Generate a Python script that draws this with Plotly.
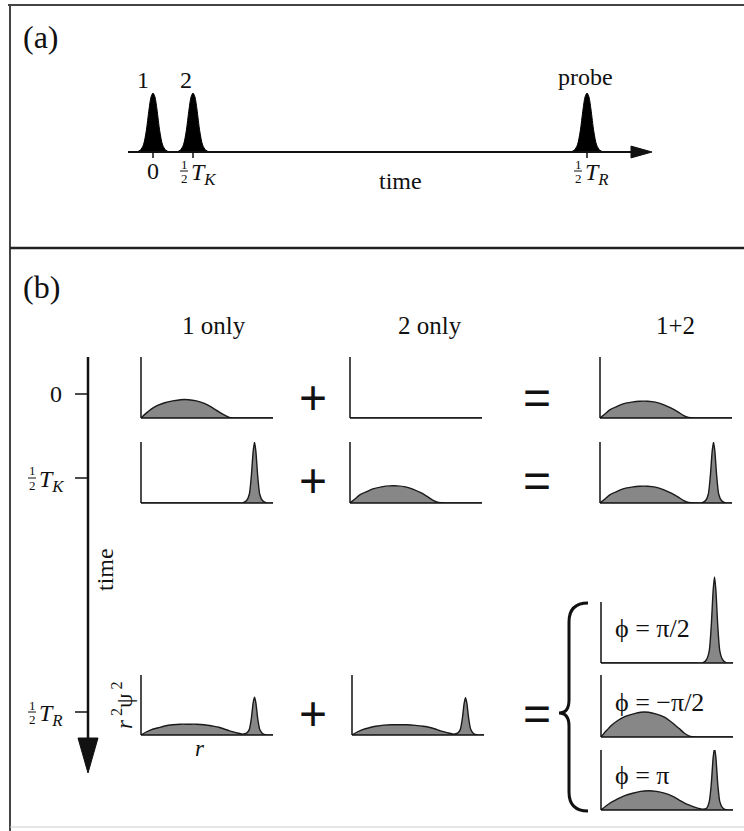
import plotly.graph_objects as go

W, H = 744, 831

# ---------------- data: panel (a) ----------------
pulse_dt = [-0.42, -0.32, -0.24, -0.17, -0.10, -0.05, 0.0, 0.05, 0.10, 0.17, 0.24, 0.32, 0.42]
pulse_h = [0.0, 0.03, 0.12, 0.35, 0.72, 0.93, 1.0, 0.93, 0.72, 0.35, 0.12, 0.03, 0.0]
pulse_centers = [0.0, 1.0, 10.85]          # 0, T_K/2, T_R/2 (in units of T_K/2)
pulse_labels = ["1", "2", "probe"]
time_ticks = [0.0, 1.0, 10.85]
time_tick_subs = [None, "K", "R"]          # None -> plain "0", else ½T_sub

# ---------------- data: panel (b) ----------------
column_titles = ["1 only", "2 only", "1+2"]
row_subs = [None, "K", "R"]
phase_labels = ["ϕ = π/2", "ϕ = −π/2", "ϕ = π"]

r_grid = [0.0, 0.04, 0.08, 0.13, 0.18, 0.24, 0.30, 0.36, 0.42, 0.48, 0.54, 0.59, 0.63, 0.67,
          0.72, 0.77, 0.80, 0.82, 0.835, 0.85, 0.86, 0.87, 0.885, 0.90, 0.92, 0.95, 1.0]

t0_one = [0, 0.08, 0.15, 0.21, 0.25, 0.28, 0.30, 0.30, 0.28, 0.24, 0.17, 0.10, 0.05, 0.01,
          0, 0, 0, 0, 0, 0, 0, 0, 0, 0, 0, 0, 0]
t0_two = [0] * 27
t0_sum = [0, 0.07, 0.14, 0.19, 0.235, 0.26, 0.275, 0.275, 0.26, 0.22, 0.16, 0.10, 0.045, 0.01,
          0, 0, 0, 0, 0, 0, 0, 0, 0, 0, 0, 0, 0]
tk_one = [0, 0, 0, 0, 0, 0, 0, 0, 0, 0, 0, 0, 0, 0,
          0, 0, 0.04, 0.14, 0.42, 0.85, 1.0, 0.85, 0.42, 0.14, 0.04, 0, 0]
tk_two = [0, 0.07, 0.14, 0.19, 0.235, 0.265, 0.28, 0.28, 0.265, 0.225, 0.165, 0.10, 0.045, 0.01,
          0, 0, 0, 0, 0, 0, 0, 0, 0, 0, 0, 0, 0]
tk_sum = [0, 0.07, 0.14, 0.19, 0.235, 0.26, 0.275, 0.275, 0.26, 0.22, 0.16, 0.10, 0.045, 0.01,
          0, 0, 0.04, 0.14, 0.42, 0.85, 1.0, 0.85, 0.42, 0.14, 0.04, 0, 0]
tr_one = [0, 0.05, 0.09, 0.12, 0.15, 0.17, 0.18, 0.18, 0.18, 0.17, 0.15, 0.13, 0.10, 0.07,
          0.04, 0.015, 0.03, 0.09, 0.26, 0.54, 0.63, 0.54, 0.26, 0.09, 0.025, 0, 0]
tr_two = [0, 0.05, 0.09, 0.12, 0.145, 0.165, 0.17, 0.17, 0.17, 0.16, 0.145, 0.125, 0.10, 0.07,
          0.04, 0.015, 0.03, 0.09, 0.26, 0.53, 0.62, 0.53, 0.26, 0.09, 0.025, 0, 0]
phi_a = [0, 0, 0, 0, 0, 0, 0, 0, 0, 0, 0, 0, 0, 0,
         0, 0, 0.06, 0.2, 0.6, 1.2, 1.41, 1.2, 0.6, 0.2, 0.06, 0, 0]
phi_b = [0, 0.10, 0.19, 0.27, 0.33, 0.37, 0.40, 0.40, 0.37, 0.32, 0.23, 0.14, 0.065, 0.015,
         0, 0, 0, 0, 0, 0, 0, 0, 0, 0, 0, 0, 0]
phi_c = [0, 0.07, 0.13, 0.19, 0.24, 0.28, 0.31, 0.32, 0.31, 0.28, 0.23, 0.17, 0.12, 0.08,
         0.04, 0.015, 0.03, 0.14, 0.42, 0.88, 1.03, 0.88, 0.42, 0.14, 0.04, 0, 0]

# ---------------- layout of the small plots (px: left, bottom, width, height, extra top) ----
small_plots = [
    (t0_one, 141, 418, 132, 61, 0),
    (t0_two, 350, 418, 132, 61, 0),
    (t0_sum, 600, 418, 132, 61, 0),
    (tk_one, 141, 503, 132, 61, 0),
    (tk_two, 350, 503, 132, 61, 0),
    (tk_sum, 600, 503, 132, 61, 0),
    (tr_one, 141, 735, 132, 60, 0),
    (tr_two, 352, 735, 132, 60, 0),
    (phi_a, 601, 663, 132, 61, 28),
    (phi_b, 601, 737, 132, 62, 0),
    (phi_c, 601, 810, 132, 60, 0),
]


def px(x):
    return x / W


def py(y):
    return 1 - y / H


SERIF = "Liberation Serif"
INK = "#111111"
GRAY = "#878787"
FS = 25

fig = go.Figure()
shapes = []
annotations = []
layout_axes = {}


def text(x, y, s, size=FS, xref="paper", xshift=0, xanchor="center", angle=0, family=SERIF):
    annotations.append(dict(x=x, y=py(y), xref=xref, yref="paper", text=s, showarrow=False,
                            xanchor=xanchor, yanchor="middle", xshift=xshift, textangle=angle,
                            font=dict(family=family, size=size, color=INK)))


def half_T(x, yc, sub, xref="paper", shift=0):
    """stacked 1/2 followed by italic T with subscript"""
    text(x, yc - 7, "1", size=13, xref=xref, xshift=shift)
    text(x, yc + 7, "2", size=13, xref=xref, xshift=shift)
    if xref == "paper":
        shapes.append(dict(type="line", xref="paper", yref="paper", x0=x + px(shift - 4),
                           x1=x + px(shift + 4), y0=py(yc), y1=py(yc), line=dict(color=INK, width=1)))
    else:
        shapes.append(dict(type="line", xref=xref, yref="paper", xsizemode="pixel", xanchor=x,
                           x0=shift - 4, x1=shift + 4, y0=py(yc), y1=py(yc), line=dict(color=INK, width=1)))
    text(x, yc + 3, f"<i>T</i><sub><i>{sub}</i></sub>", size=24, xref=xref, xshift=shift + 5, xanchor="left")


# ---------------- panel (a): pulses on the time axis ----------------
a_y0_px, a_unit_px = 152, 59
a_bot, a_top = 165, 88
layout_axes["xaxis"] = dict(domain=[px(128), px(652)], range=[-0.625, 12.475], visible=False, fixedrange=True)
layout_axes["yaxis"] = dict(domain=[py(a_bot), py(a_top)],
                            range=[-(a_bot - a_y0_px) / a_unit_px, (a_y0_px - a_top) / a_unit_px],
                            visible=False, fixedrange=True)
for c in pulse_centers:
    fig.add_trace(go.Scatter(x=[c + d for d in pulse_dt], y=pulse_h, mode="lines", fill="tozeroy",
                             fillcolor="#000000", line=dict(color="#000000", width=1, shape="spline", smoothing=0.8),
                             xaxis="x", yaxis="y", hoverinfo="skip", showlegend=False))
shapes.append(dict(type="line", xref="x", yref="y", x0=-0.625, x1=12.1, y0=0, y1=0,
                   line=dict(color=INK, width=2)))
shapes.append(dict(type="path", xref="x", yref="y",
                   path="M 11.95,-0.1 L 12.475,0 L 11.95,0.1 Z", fillcolor=INK, line=dict(color=INK, width=1)))
for t in time_ticks:
    shapes.append(dict(type="line", xref="x", yref="y", x0=t, x1=t, y0=0.02, y1=-0.1,
                       line=dict(color=INK, width=1.5)))
for c, lab, sh, yy in zip(pulse_centers, pulse_labels, [-10, -7, -2], [80, 80, 77]):
    text(c, yy, lab, xref="x", xshift=sh, size=24)
for t, sub in zip(time_ticks, time_tick_subs):
    if sub is None:
        text(t, 171, "0", xref="x", size=24)
    else:
        half_T(t, 171, sub, xref="x", shift=-9)
text(px(400), 181, "time", size=24)

# ---------------- panel (b): small wave-packet plots ----------------
for i, (vals, left, bottom, w, h, extra) in enumerate(small_plots):
    k = i + 2
    layout_axes[f"xaxis{k}"] = dict(domain=[px(left), px(left + w)], range=[0, 1], visible=False,
                                    fixedrange=True, anchor=f"y{k}")
    layout_axes[f"yaxis{k}"] = dict(domain=[py(bottom), py(bottom - h - extra)], range=[0, (h + extra) / h],
                                    visible=False, fixedrange=True, anchor=f"x{k}")
    fig.add_trace(go.Scatter(x=r_grid, y=vals, mode="lines", fill="tozeroy", fillcolor=GRAY,
                             line=dict(color="#1a1a1a", width=1.4, shape="spline", smoothing=0.7),
                             xaxis=f"x{k}", yaxis=f"y{k}", hoverinfo="skip", showlegend=False))
    shapes.append(dict(type="line", xref=f"x{k} domain", yref=f"y{k} domain", x0=0, x1=1, y0=0, y1=0,
                       line=dict(color=INK, width=1.5)))
    shapes.append(dict(type="line", xref=f"x{k} domain", yref=f"y{k} domain", x0=0, x1=0, y0=0,
                       y1=h / (h + extra), line=dict(color=INK, width=1.5)))

for title, cx in zip(column_titles, [214, 430, 675]):
    text(px(cx), 326, title)

# vertical time axis
shapes.append(dict(type="line", xref="paper", yref="paper", x0=px(88), x1=px(88), y0=py(357), y1=py(742),
                   line=dict(color=INK, width=2.5)))
shapes.append(dict(type="path", xref="paper", yref="paper",
                   path=f"M {px(78)},{py(738)} L {px(98)},{py(738)} L {px(88)},{py(773)} Z",
                   fillcolor=INK, line=dict(color=INK, width=1)))
for sub, ty in zip(row_subs, [394, 478, 712]):
    shapes.append(dict(type="line", xref="paper", yref="paper", x0=px(75), x1=px(88), y0=py(ty), y1=py(ty),
                       line=dict(color=INK, width=1.5)))
    if sub is None:
        text(px(56), ty, "0", size=24)
    else:
        half_T(px(32), ty, sub)
text(px(105), 570, "time", size=24, angle=-90)
text(px(122), 705, "<i>r</i><sup> 2</sup>ψ<sup> 2</sup>", size=23, angle=-90)
text(px(200), 748, "<i>r</i>", size=23)

# plus / equals signs
for yy in [397, 480, 713]:
    text(px(313), yy, "+", size=48, family="Liberation Sans")
    text(px(537), yy, "=", size=48, family="Liberation Sans")

# curly brace
bp = [(588, 603), (569, 603), (569, 622), (569, 700), (569, 713), (559, 713), (569, 713), (569, 726),
      (569, 792), (569, 811), (588, 811)]
P = [f"{px(x)},{py(y)}" for x, y in bp]
brace = (f"M {P[0]} Q {P[1]} {P[2]} L {P[3]} Q {P[4]} {P[5]} Q {P[6]} {P[7]} L {P[8]} Q {P[9]} {P[10]}")
shapes.append(dict(type="path", xref="paper", yref="paper", path=brace, line=dict(color=INK, width=3)))

for lab, yy in zip(phase_labels, [628, 702, 775]):
    text(px(613), yy, lab, size=26, xanchor="left")

text(px(41), 37, "(a)", size=32)
text(px(41), 287, "(b)", size=32)

# frame
shapes.append(dict(type="line", xref="paper", yref="paper", x0=px(8), x1=1, y0=py(5), y1=py(5),
                   line=dict(color="#444444", width=2)))
shapes.append(dict(type="line", xref="paper", yref="paper", x0=px(10), x1=px(10), y0=py(5), y1=0,
                   line=dict(color="#444444", width=2)))
shapes.append(dict(type="line", xref="paper", yref="paper", x0=px(10), x1=1, y0=py(248), y1=py(248),
                   line=dict(color="#222222", width=2.5)))
shapes.append(dict(type="line", xref="paper", yref="paper", x0=px(10), x1=1, y0=py(827), y1=py(827),
                   line=dict(color="#cccccc", width=1)))

fig.update_layout(width=W, height=H, margin=dict(l=0, r=0, t=0, b=0), paper_bgcolor="white",
                  plot_bgcolor="rgba(0,0,0,0)", showlegend=False, shapes=shapes, annotations=annotations,
                  **layout_axes)
fig.write_html("out.html", config={"displayModeBar": False},
               post_script="document.body.style.margin='0px';document.body.style.padding='0px';")
